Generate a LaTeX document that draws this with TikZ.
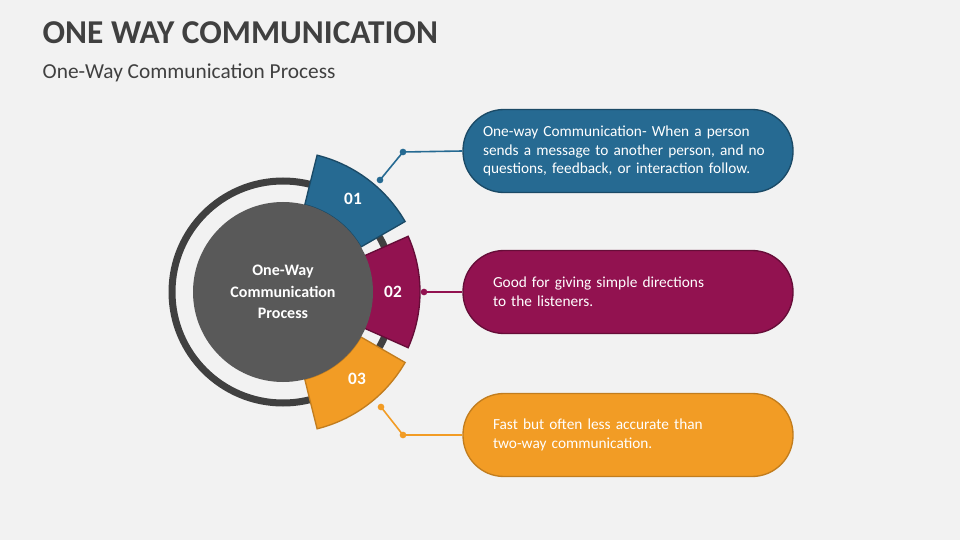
\documentclass[tikz,border=0pt]{standalone}
\usepackage{fontspec}
\setmainfont{Carlito}
\usetikzlibrary{calc}
\definecolor{bgc}{HTML}{F2F2F2}
\definecolor{blu}{HTML}{266A92}
\definecolor{mar}{HTML}{921250}
\definecolor{ora}{HTML}{F29C25}
\definecolor{ringc}{HTML}{404040}
\definecolor{hubc}{HTML}{595959}
\tikzset{
  pill/.style={rounded corners=41*0.75pt, minimum width=330*0.75pt, minimum height=83*0.75pt,
    line width=1pt, text=white, font=\fontsize{11.5}{14}\selectfont, align=left},
  num/.style={text=white, font=\bfseries\fontsize{13}{15}\selectfont},
  dot/.style={circle, inner sep=0pt, minimum size=5pt},
  seg/.style={line width=1pt}
}
\begin{document}
\begin{tikzpicture}[x=0.75pt, y=0.75pt]
\fill[bgc] (0,0) rectangle (960,540);
\useasboundingbox (0,0) rectangle (960,540);

% Titles
\node[anchor=west, text=ringc, font=\bfseries\fontsize{25}{28}\selectfont] (title) at (38,507) {ONE WAY COMMUNICATION};
\node[anchor=west, text=ringc, font=\fontsize{16}{19}\selectfont] (subtitle) at (38,467) {One-Way Communication Process};

% Ring and hub
\coordinate (c) at (283,248);
\draw[ringc, line width=7*0.75pt] (c) circle (111);

% Segments
\fill[blu, draw=blu!70!black, seg] ($(c)+(30:90)$) arc (30:76:90) -- ($(c)+(76:141)$) arc (76:30:141) -- cycle;
\fill[mar, draw=mar!70!black, seg] ($(c)+(-24:85)$) arc (-24:24:85) -- ($(c)+(24:137)$) arc (24:-24:137) -- cycle;
\fill[ora, draw=ora!80!black, seg] ($(c)+(-30:90)$) arc (-30:-76:90) -- ($(c)+(-76:141)$) arc (-76:-30:141) -- cycle;

\node[circle, fill=hubc, minimum size=180*0.75pt, inner sep=0pt, text=white, align=center,
  font=\bfseries\fontsize{12}{16}\selectfont] (hub) at (c) {One-Way\\Communication\\Process};

\node[num] (n1) at (353,341) {01};
\node[num] (n2) at (393,248) {02};
\node[num] (n3) at (357,161) {03};

% Pills
\node[pill, fill=blu, draw=blu!70!black, text width=290*0.75pt] (p1) at (628,389)
  {One-way Communication- When a person sends a message to another person, and no questions, feedback, or interaction follow.};
\node[pill, fill=mar, draw=mar!70!black, text width=270*0.75pt] (p2) at (628,248)
  {Good for giving simple directions\\to the listeners.};
\node[pill, fill=ora, draw=ora!80!black, text width=270*0.75pt] (p3) at (628,105)
  {Fast but often less accurate than\\two-way communication.};

% Connectors
\node[dot, fill=blu] (d1a) at (403,388) {};
\node[dot, fill=blu] (d1b) at (380,360) {};
\node[dot, fill=mar] (d2a) at (424,248) {};
\node[dot, fill=ora] (d3a) at (403,105) {};
\node[dot, fill=ora] (d3b) at (381,133) {};
\draw[blu, line width=1.2pt] (p1.west) -- (d1a.center) -- (d1b.center);
\draw[mar, line width=1.2pt] (p2.west) -- (d2a.center);
\draw[ora, line width=1.2pt] (p3.west) -- (d3a.center) -- (d3b.center);
\end{tikzpicture}
\end{document}
